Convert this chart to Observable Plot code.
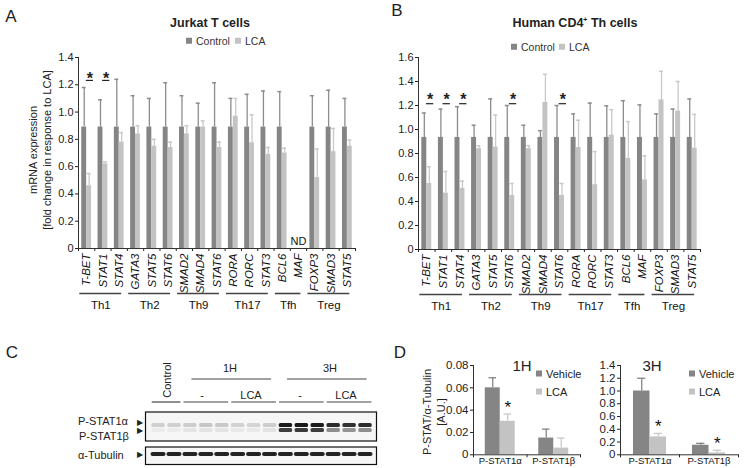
<!DOCTYPE html>
<html><head><meta charset="utf-8">
<script src="https://cdn.jsdelivr.net/npm/d3@7"></script>
<script src="https://cdn.jsdelivr.net/npm/@observablehq/plot@0.6"></script>
<style>
body{margin:0;background:#fff;}
#root{position:relative;width:745px;height:468px;overflow:hidden;font-family:"Liberation Sans",Arial,sans-serif;color:#222;}
#root svg{position:absolute;left:0;top:0;}
.t{position:absolute;white-space:nowrap;line-height:1;}
.sq{display:inline-block;width:6px;height:6px;vertical-align:middle;margin-right:4px;position:relative;top:-1px;}
</style></head><body><div id="root"></div><script>
// ---------- DATA ----------
const genes = ["T-BET","STAT1","STAT4","GATA3","STAT5","STAT6","SMAD2","SMAD4","STAT6","RORA","RORC","STAT3","BCL6","MAF","FOXP3","SMAD3","STAT5"];
const groupNames = ["Th1","Th2","Th9","Th17","Tfh","Treg"];
const groupSizes = [3,3,3,3,2,3];

// Panel A: Jurkat T cells
const ctrlA    = [0.89,0.89,0.89,0.89,0.89,0.89,0.89,0.89,0.89,0.89,0.89,0.89,0.89,null,0.89,0.89,0.89];
const ctrlErrA = [1.18,1.09,1.24,1.12,1.10,1.215,1.12,1.065,1.215,1.10,1.13,1.155,1.15,null,1.12,1.16,1.10];
const lcaA     = [0.46,0.62,0.78,0.84,0.75,0.74,0.84,0.89,0.74,0.97,0.775,0.69,0.70,null,0.52,0.71,0.75];
const lcaErrA  = [0.55,0.635,0.85,0.90,0.80,0.78,0.90,0.935,0.78,1.10,0.98,0.74,0.735,null,0.73,0.88,0.795];
const sigA = [0,1];
const ndA = [13];

// Panel B: Human CD4+ Th cells
const ctrlB    = [0.934,0.934,0.934,0.934,0.934,0.934,0.934,0.934,0.934,0.934,0.934,0.934,0.934,0.934,0.934,0.934,0.934];
const ctrlErrB = [1.137,1.17,1.19,1.035,1.255,1.20,1.035,0.99,1.20,1.13,1.22,1.197,1.24,1.205,1.13,1.17,1.255];
const lcaB     = [0.55,0.47,0.51,0.84,0.855,0.45,0.84,1.225,0.45,0.85,0.54,0.953,0.76,0.58,1.247,1.153,0.845];
const lcaErrB  = [0.69,0.65,0.57,0.865,1.12,0.55,0.865,1.46,0.55,1.077,0.816,1.165,1.066,0.78,1.485,1.40,1.126];
const sigB = [0,1,2,5,8];

// Panel C: western blot band intensities (14 lanes)
const laneGroups = [["Control",2],["1H -",3],["1H LCA",3],["3H -",3],["3H LCA",3]];
const alphaBand = [0.16,0.16,0.17,0.20,0.19,0.15,0.14,0.17,0.95,0.97,0.95,0.88,0.86,0.88];
const betaBand  = [0.04,0.04,0.07,0.07,0.07,0.05,0.05,0.08,0.80,0.82,0.80,0.45,0.42,0.45];
const tubulinBand = [0.92,0.92,0.92,0.92,0.92,0.92,0.92,0.92,0.92,0.92,0.92,0.92,0.92,0.92];

// Panel D
const dCats = ["P-STAT1α","P-STAT1β"];
const d1Vehicle = [0.060,0.015], d1VehicleErr = [0.069,0.023];
const d1LCA     = [0.030,0.006], d1LCAErr     = [0.0365,0.015];
const d1Sig = [0];
const d3Vehicle = [1.00,0.15],  d3VehicleErr = [1.20,0.18];
const d3LCA     = [0.28,0.03],  d3LCAErr     = [0.335,0.07];
const d3Sig = [0,1];

// ---------- STYLE ----------
const CTRL="#858585", CTRL_E="#8c8c8c", LCA_C="#c3c3c3", LCA_E="#c9c9c9", AX="#333";
const root = document.getElementById("root");
const baseStyle = {background:"transparent", fontFamily:"Liberation Sans, Arial, sans-serif", fontSize:"11px", color:"#222", overflow:"visible"};

function txt(s, x, y, o={}) {
  const d = document.createElement("div"); d.className="t"; d.innerHTML = s;
  d.style.left = x+"px"; d.style.top = y+"px";
  d.style.fontSize = (o.size||11)+"px";
  if (o.bold) d.style.fontWeight = "bold";
  if (o.color) d.style.color = o.color;
  const ax = o.anchor==="start" ? "0" : o.anchor==="end" ? "-100%" : "-50%";
  d.style.transform = `translate(${ax},-50%)` + (o.rot ? ` rotate(${o.rot}deg)` : "");
  root.appendChild(d);
}
const sq = c => `<span class="sq" style="background:${c}"></span>`;

function genePanel({ctrl, ctrlErr, lca, lcaErr, sig, nd, yMax, margins, starY, lineY}) {
  const rows = genes.map((g,i)=>({i, g, c:ctrl[i], ce:ctrlErr[i], l:lca[i], le:lcaErr[i]}));
  const bars = rows.filter(d => d.c != null);
  const grp = []; let s = 0;
  groupNames.forEach((n,k)=>{ grp.push({n, a:s, b:s+groupSizes[k]-1}); s += groupSizes[k]; });
  const n = genes.length;
  return Plot.plot({
    width:745, height:468, ...margins, style: baseStyle,
    x:{domain:[-0.5, n-0.5], ticks:d3.range(-0.5, n, 1), tickFormat:()=>"", tickSize:3, label:null},
    y:{domain:[0,yMax], ticks:d3.range(0, yMax+0.001, 0.2), tickFormat:d=> d===0 ? "0" : d.toFixed(1), tickSize:3, tickPadding:2, label:null},
    marks:[
      Plot.ruleX(bars,{x:d=>d.i-0.15, y1:"c", y2:"ce", stroke:CTRL_E, strokeWidth:1.3}),
      Plot.ruleY(bars,{y:"ce", x1:d=>d.i-0.27, x2:d=>d.i-0.03, stroke:CTRL_E, strokeWidth:1.5}),
      Plot.ruleX(bars,{x:d=>d.i+0.15, y1:"l", y2:"le", stroke:LCA_E, strokeWidth:1.3}),
      Plot.ruleY(bars,{y:"le", x1:d=>d.i+0.03, x2:d=>d.i+0.27, stroke:LCA_E, strokeWidth:1.5}),
      Plot.rect(bars,{x1:d=>d.i-0.3, x2:d=>d.i, y1:0, y2:"c", fill:CTRL}),
      Plot.rect(bars,{x1:d=>d.i, x2:d=>d.i+0.3, y1:0, y2:"l", fill:LCA_C}),
      Plot.ruleY([0],{stroke:AX}),
      Plot.ruleX([-0.5],{y1:0, y2:yMax, stroke:AX}),
      Plot.text(rows,{x:"i", y:0, text:"g", rotate:-90, textAnchor:"end", dy:5, fontStyle:"italic", fontSize:11.5, fill:"#111"}),
      Plot.ruleY(grp,{y:0, x1:d=>d.a-0.42, x2:d=>d.b+0.15, dy:45, stroke:"#444", strokeWidth:1.6}),
      Plot.text(grp,{x:d=>(d.a+d.b)/2-0.13, y:0, text:"n", dy:57, fontSize:11.5, fill:"#111"}),
      Plot.text(nd,{x:d=>d, y:0, text:()=>"ND", dy:-7, fontSize:11, fill:"#111"}),
      Plot.ruleY(sig,{y:lineY, x1:d=>d-0.02, x2:d=>d+0.42, stroke:"#222", strokeWidth:1.2}),
      Plot.text(sig,{x:d=>d+0.2, y:starY, text:()=>"*", fontSize:16, fontWeight:"bold", fill:"#222"})
    ]
  });
}

// Panel A
root.appendChild(genePanel({ctrl:ctrlA, ctrlErr:ctrlErrA, lca:lcaA, lcaErr:lcaErrA, sig:sigA, nd:ndA, yMax:1.4,
  margins:{marginLeft:78, marginRight:390, marginTop:57, marginBottom:220}, starY:1.245, lineY:1.232}));
// Panel B
root.appendChild(genePanel({ctrl:ctrlB, ctrlErr:ctrlErrB, lca:lcaB, lcaErr:lcaErrB, sig:sigB, nd:[], yMax:1.6,
  margins:{marginLeft:418, marginRight:45, marginTop:57, marginBottom:219}, starY:1.25, lineY:1.215}));

// Panel C blots
const lanes = []; laneGroups.forEach(([g,k])=>{ for (let j=0;j<k;j++) lanes.push(g); });
const blotRows = lanes.flatMap((g,i)=>[{i, band:"α", v:alphaBand[i]}, {i, band:"β", v:betaBand[i]}]);
root.appendChild(Plot.plot({
  width:745, height:468, marginLeft:145, marginRight:369, marginTop:411.5, marginBottom:27.5, style:baseStyle,
  x:{domain:[-0.82,13.69], axis:null}, y:{type:"band", domain:["α","β"], range:[423.3,432], paddingInner:0.3, paddingOuter:0, axis:null},
  color:{type:"linear", domain:[0,1], range:["#f4f4f4","#111"]},
  marks:[
    Plot.frame({fill:"#f6f6f6"}),
    Plot.barX(blotRows,{x1:d=>d.i-0.42, x2:d=>d.i+0.42, y:"band", fill:"v", rx:1.5}),
    Plot.frame({stroke:"#111", strokeWidth:1.2})
  ]
}));
const tubRows = lanes.map((g,i)=>({i, band:"t", v:tubulinBand[i]}));
root.appendChild(Plot.plot({
  width:745, height:468, marginLeft:145, marginRight:369, marginTop:446.5, marginBottom:4, style:baseStyle,
  x:{domain:[-0.82,13.69], axis:null}, y:{type:"band", domain:["t"], range:[451.3,456], padding:0, axis:null},
  color:{type:"linear", domain:[0,1], range:["#f4f4f4","#111"]},
  marks:[
    Plot.frame({fill:"#f6f6f6"}),
    Plot.barX(tubRows,{x1:d=>d.i-0.47, x2:d=>d.i+0.47, y:"band", fill:"v", rx:2}),
    Plot.frame({stroke:"#111", strokeWidth:1.2})
  ]
}));

// Panel D
function dPanel({veh, vehErr, lca, lcaErr, sig, yMax, step, fmt, margins}) {
  const rows = dCats.map((c,i)=>({i, c, v:veh[i], ve:vehErr[i], l:lca[i], le:lcaErr[i]}));
  return Plot.plot({
    width:745, height:468, ...margins, style:{...baseStyle, fontSize:"11.5px"},
    x:{domain:[0,2], ticks:[0,1,2], tickFormat:()=>"", tickSize:3, label:null},
    y:{domain:[0,yMax], ticks:d3.range(0, yMax+step/2, step), tickFormat:fmt, tickSize:3, tickPadding:2, label:null},
    marks:[
      Plot.ruleX(rows,{x:d=>d.i+0.36, y1:"v", y2:"ve", stroke:CTRL, strokeWidth:1.3}),
      Plot.ruleY(rows,{y:"ve", x1:d=>d.i+0.29, x2:d=>d.i+0.43, stroke:CTRL, strokeWidth:1.3}),
      Plot.ruleX(rows,{x:d=>d.i+0.64, y1:"l", y2:"le", stroke:LCA_E, strokeWidth:1.3}),
      Plot.ruleY(rows,{y:"le", x1:d=>d.i+0.57, x2:d=>d.i+0.71, stroke:LCA_E, strokeWidth:1.3}),
      Plot.rect(rows,{x1:d=>d.i+0.22, x2:d=>d.i+0.5, y1:0, y2:"v", fill:CTRL}),
      Plot.rect(rows,{x1:d=>d.i+0.5, x2:d=>d.i+0.78, y1:0, y2:"l", fill:LCA_C}),
      Plot.ruleY([0],{stroke:AX}),
      Plot.ruleX([0],{y1:0, y2:yMax, stroke:AX}),
      Plot.text(rows,{x:d=>d.i+0.5, y:0, text:"c", lineAnchor:"top", dy:2, fontSize:9.5, fill:"#111"}),
      Plot.text(sig.map(i=>rows[i]),{x:d=>d.i+0.64, y:"le", text:()=>"*", lineAnchor:"bottom", dy:-1, fontSize:17, fill:"#111"})
    ]
  });
}
root.appendChild(dPanel({veh:d1Vehicle, vehErr:d1VehicleErr, lca:d1LCA, lcaErr:d1LCAErr, sig:d1Sig, yMax:0.08, step:0.02,
  fmt:d=> d===0 ? "0" : d.toFixed(2), margins:{marginLeft:473, marginRight:165, marginTop:365, marginBottom:13.7}}));
root.appendChild(dPanel({veh:d3Vehicle, vehErr:d3VehicleErr, lca:d3LCA, lcaErr:d3LCAErr, sig:d3Sig, yMax:1.4, step:0.2,
  fmt:d=> d===0 ? "0" : d.toFixed(1), margins:{marginLeft:620, marginRight:7, marginTop:365, marginBottom:13.7}}));

// ---------- TEXT ----------
txt("A", 11, 16, {size:17});
txt("B", 397, 10, {size:17});
txt("C", 12, 352, {size:17});
txt("D", 400, 352, {size:17});
txt("Jurkat T cells", 210, 23, {size:12.5, bold:true});
txt("Human CD4<sup style='font-size:7px'>+</sup> Th cells", 575, 23, {size:12.5, bold:true});
txt(sq(CTRL)+"Control", 186, 41, {size:10.5, anchor:"start", color:"#333"});
txt(sq(LCA_C)+"LCA", 235, 41, {size:10.5, anchor:"start", color:"#333"});
txt(sq(CTRL)+"Control", 511, 47, {size:10.5, anchor:"start", color:"#333"});
txt(sq(LCA_C)+"LCA", 559, 47, {size:10.5, anchor:"start", color:"#333"});
txt("mRNA expression", 33, 150, {size:11, rot:-90});
txt("[fold change in response to LCA]", 47, 150, {size:11, rot:-90});

// C labels
txt("Control", 167, 380, {size:11, rot:-90});
txt("1H", 230, 368, {size:11});
txt("3H", 330, 368, {size:11});
txt("-", 202, 395, {size:11});
txt("LCA", 251, 395, {size:11});
txt("-", 300, 395, {size:11});
txt("LCA", 346, 395, {size:11});
txt("P-STAT1α", 78, 421, {size:11, anchor:"start"});
txt("P-STAT1β", 79, 436, {size:11, anchor:"start"});
txt("α-Tubulin", 78, 455, {size:11, anchor:"start"});
txt("▶", 140, 423, {size:8});
txt("▶", 140, 431, {size:8});
txt("▶", 140, 455, {size:8});

// D labels
txt("1H", 522, 365, {size:15});
txt("3H", 652, 365, {size:15});
txt(sq(CTRL)+"Vehicle", 536, 374, {size:11, anchor:"start"});
txt(sq(LCA_C)+"LCA", 536, 392, {size:11, anchor:"start"});
txt(sq(CTRL)+"Vehicle", 689, 374, {size:11, anchor:"start"});
txt(sq(LCA_C)+"LCA", 689, 392, {size:11, anchor:"start"});
txt("P-STAT/α-Tubulin", 427, 412, {size:11, rot:-90});
txt("[A.U.]", 441, 412, {size:11, rot:-90});

// C header lines drawn from lane groups through Plot
const hdr = []; let st = 0;
laneGroups.forEach(([g,k])=>{ hdr.push({g, a:st, b:st+k-1}); st += k; });
const timeGroups = [{g:"1H", a:2, b:7}, {g:"3H", a:8, b:13}];
root.appendChild(Plot.plot({
  width:745, height:468, marginLeft:145, marginRight:369, marginTop:360, marginBottom:60, style:baseStyle,
  x:{domain:[-0.82,13.69], axis:null}, y:{domain:[0,1], axis:null},
  marks:[
    Plot.ruleY(hdr,{y:0, x1:d=>d.a-0.4, x2:d=>d.b+0.4, dy:-6.5, stroke:"#444", strokeWidth:1.2}),
    Plot.ruleY(timeGroups,{y:1, x1:d=>d.a+0.1, x2:d=>d.b+0.1, dy:18.5, stroke:"#444", strokeWidth:1.2})
  ]
}));
</script></body></html>
